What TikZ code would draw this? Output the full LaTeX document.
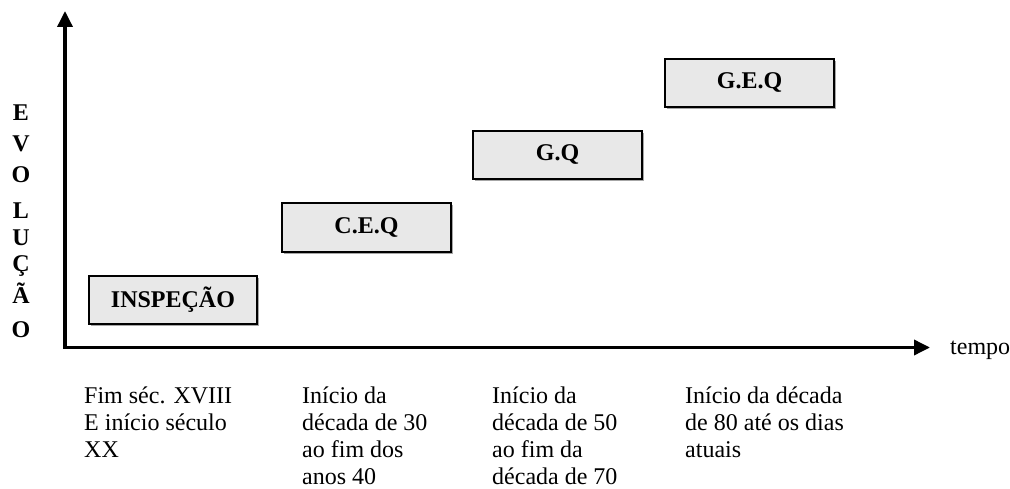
\documentclass[tikz,border=0pt]{standalone}
\usepackage{fontspec}
\setmainfont{Liberation Serif}
\usetikzlibrary{arrows.meta}
\begin{document}
\begin{tikzpicture}[x=1pt,y=-1pt,
  stage/.style={draw=black, line width=1.4pt, fill=black!9,
    minimum width=168pt, minimum height=48pt, inner sep=0pt,
    font=\fontsize{24}{27}\selectfont\bfseries},
  shade/.style={fill=black!35, draw=none},
  period/.style={anchor=base west, align=left, inner sep=0pt,
    font=\fontsize{24}{27}\selectfont},
  vletter/.style={anchor=base, inner sep=0pt,
    font=\fontsize{24}{27}\selectfont\bfseries},
  axis/.style={line width=3.5pt, line join=miter,
    {Triangle[width=15pt,length=16pt]}-{Triangle[width=15pt,length=16pt]}}]

\useasboundingbox (0,0) rectangle (1010,489);

% axes
\coordinate (ytop) at (65,11);
\coordinate (orig) at (65,347.5);
\coordinate (xend) at (930,347.5);
\draw[axis] (ytop) -- (orig) -- (xend);
\node[period] (tempo) at (950,354) {tempo};

% vertical axis label
\node[vletter] (l1) at (21,120.5) {E};
\node[vletter] (l2) at (21,151.5) {V};
\node[vletter] (l3) at (21,183) {O};
\node[vletter] (l4) at (21,219) {L};
\node[vletter] (l5) at (21,245.5) {U};
\node[vletter] (l6) at (21,271.5) {Ç};
\node[vletter] (l7) at (21,303) {Ã};
\node[vletter] (l8) at (21,337.5) {O};

% stages, each with a thin shadow
\fill[shade] (91,278) rectangle (259,326);
\node[stage] (insp) at (173,300) {INSPEÇÃO};
\fill[shade] (284,205) rectangle (453,254);
\node[stage, minimum width=169pt, minimum height=49pt] (ceq) at (366.5,227.5) {C.E.Q};
\fill[shade] (475,133) rectangle (644,181);
\node[stage, minimum width=169pt] (gq) at (557.5,155) {G.Q};
\fill[shade] (667,61) rectangle (836,109);
\node[stage, minimum width=169pt] (geq) at (749.5,83) {G.E.Q};

% periods (anchored on the baseline of the last line)
\node[period] (p1) at (84,457) {Fim séc. XVIII\\E início século\\XX};
\node[period] (p2) at (302,484) {Início da\\década de 30\\ao fim dos\\anos 40};
\node[period] (p3) at (492,484) {Início da\\década de 50\\ao fim da\\década de 70};
\node[period] (p4) at (685,457) {Início da década\\de 80 até os dias\\atuais};
\end{tikzpicture}
\end{document}
